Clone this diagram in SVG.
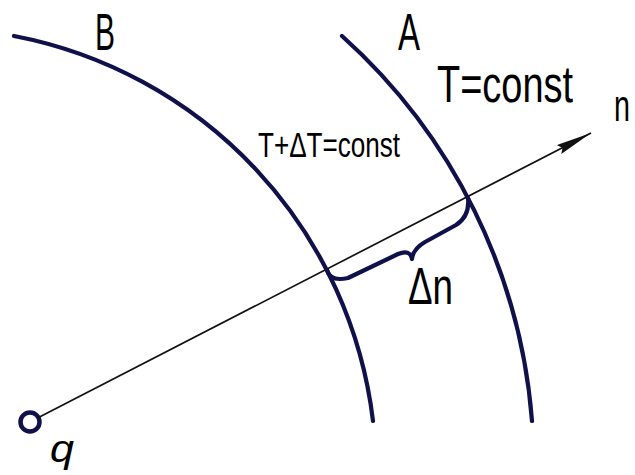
<svg xmlns="http://www.w3.org/2000/svg" width="635" height="475" viewBox="0 0 635 475">
  <style>
    .iso { fill: none; stroke: #10114a; stroke-width: 4.2; stroke-linecap: round; stroke-linejoin: round; }
    .axis { fill: none; stroke: #111; stroke-width: 1.7; }
    .lbl { font-family: "Liberation Sans", Arial, sans-serif; fill: #000; }
  </style>
  <defs>
    <marker id="arrow" markerUnits="userSpaceOnUse" markerWidth="38" markerHeight="12" refX="36" refY="5" orient="auto">
      <path d="M0,0 L36,5 L0,10 L4,5 z" fill="#111"/>
    </marker>
  </defs>
  <rect width="635" height="475" fill="#fff"/>

  <g id="isotherm-B">
    <path class="iso" d="M14,36 A446,446 0 0 1 373,421"/>
    <text class="lbl" x="95" y="50" font-size="52" textLength="20" lengthAdjust="spacingAndGlyphs">B</text>
    <text class="lbl" x="258" y="157" font-size="35" textLength="142" lengthAdjust="spacingAndGlyphs">T+ΔT=const</text>
  </g>

  <g id="isotherm-A">
    <path class="iso" d="M342,36 A577,577 0 0 1 532,421"/>
    <text class="lbl" x="398" y="50" font-size="52" textLength="22" lengthAdjust="spacingAndGlyphs">A</text>
    <text class="lbl" x="437" y="102" font-size="52" textLength="136" lengthAdjust="spacingAndGlyphs">T=const</text>
  </g>

  <g id="source-q">
    <circle cx="30" cy="422" r="9.5" fill="none" stroke="#10114a" stroke-width="4.5"/>
    <text class="lbl" x="50" y="462" font-size="38" font-style="italic" textLength="24" lengthAdjust="spacingAndGlyphs">q</text>
  </g>

  <g id="connectors">
    <path class="axis" d="M38.5,417.6 L591,133" marker-end="url(#arrow)"/>
    <path class="iso" d="M327,270 Q330,282 348,278 L398,254 Q410,249 412,259 Q413,249 425,242 L456,225 Q470,216 468,198"/>
  </g>

  <g id="labels">
    <text class="lbl" x="614" y="121" font-size="44" textLength="16" lengthAdjust="spacingAndGlyphs">n</text>
    <text class="lbl" x="408" y="304" font-size="52" textLength="45" lengthAdjust="spacingAndGlyphs">Δn</text>
  </g>
</svg>
